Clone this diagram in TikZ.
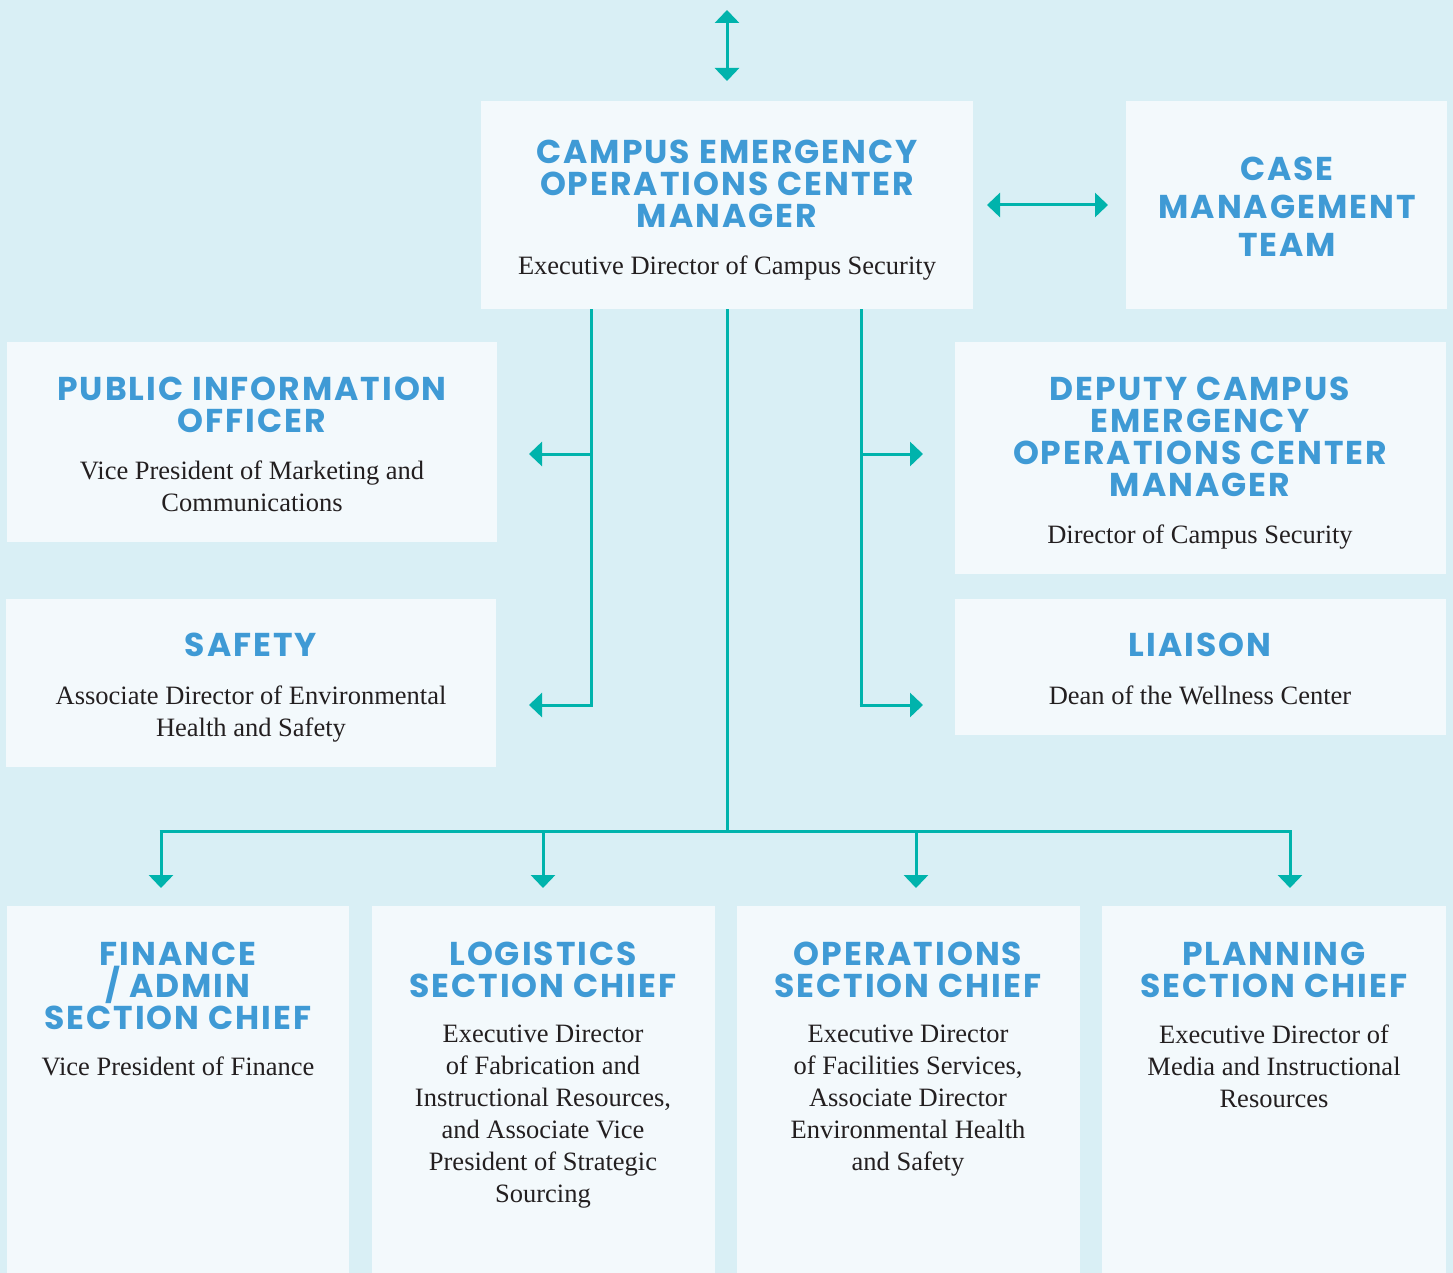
\documentclass[tikz,border=0pt]{standalone}
\usepackage{fontspec}
\setmainfont{Liberation Serif}
\newfontfamily\titlefont[LetterSpace=6]{Poppins}
\usetikzlibrary{arrows.meta}
\definecolor{bgc}{HTML}{D9EFF5}
\definecolor{boxc}{HTML}{F3F9FC}
\definecolor{teal}{HTML}{00B3AC}
\definecolor{ttl}{HTML}{3F9AD5}
\definecolor{txt}{HTML}{231F20}
\tikzset{
  box/.style={draw=none,fill=boxc,anchor=north west,inner sep=0pt,outer sep=0pt},
  ttlnode/.style={anchor=north,inner sep=0pt,align=center,text=ttl,font=\titlefont\bfseries\fontsize{33}{32}\selectfont},
  bodynode/.style={anchor=north,inner sep=0pt,align=center,text=txt,font=\fontsize{26.5}{32}\selectfont},
  conn/.style={draw=teal,line width=3pt,-{Triangle[width=24pt,length=13pt]}},
  line/.style={draw=teal,line width=3pt},
  dconn/.style={draw=teal,line width=3pt,{Triangle[width=24pt,length=13pt]}-{Triangle[width=24pt,length=13pt]}}
}
\begin{document}
\begin{tikzpicture}[x=1pt,y=-1pt]
\useasboundingbox (0,0) rectangle (1453,1273);
\fill[bgc] (0,0) rectangle (1453,1273);
% boxes
\node[box,minimum width=492pt,minimum height=208pt] (ceo) at (481,101) {};
\node[box,minimum width=321pt,minimum height=208pt] (cmt) at (1126,101) {};
\node[box,minimum width=490pt,minimum height=200pt] (pio) at (7,342) {};
\node[box,minimum width=491pt,minimum height=232pt] (dep) at (955,342) {};
\node[box,minimum width=490pt,minimum height=168pt] (saf) at (6,599) {};
\node[box,minimum width=491pt,minimum height=136pt] (lia) at (955,599) {};
\node[box,minimum width=342pt,minimum height=367pt] (fin) at (7,906) {};
\node[box,minimum width=343pt,minimum height=367pt] (log) at (372,906) {};
\node[box,minimum width=343pt,minimum height=367pt] (ops) at (737,906) {};
\node[box,minimum width=344pt,minimum height=367pt] (pla) at (1102,906) {};
% texts
\node[ttlnode] (ceoT) at (727,140) {CAMPUS EMERGENCY\\OPERATIONS CENTER\\MANAGER};
\node[bodynode] (ceoB) at (727,256) {Executive Director of Campus Security};
\node[ttlnode,font=\titlefont\bfseries\fontsize{33}{38}\selectfont] (cmtT) at (1287,157) {CASE\\MANAGEMENT\\TEAM};
\node[ttlnode] (pioT) at (252,377) {PUBLIC INFORMATION\\OFFICER};
\node[bodynode] (pioB) at (252,461) {Vice President of Marketing and\\Communications};
\node[ttlnode] (depT) at (1200,377) {DEPUTY CAMPUS\\EMERGENCY\\OPERATIONS CENTER\\MANAGER};
\node[bodynode] (depB) at (1200,525) {Director of Campus Security};
\node[ttlnode] (safT) at (251,633) {SAFETY};
\node[bodynode] (safB) at (251,686) {Associate Director of Environmental\\Health and Safety};
\node[ttlnode] (liaT) at (1200,633) {LIAISON};
\node[bodynode] (liaB) at (1200,686) {Dean of the Wellness Center};
\node[ttlnode] (finT) at (178,942) {FINANCE\\/ ADMIN\\SECTION CHIEF};
\node[bodynode] (finB) at (178,1057) {Vice President of Finance};
\node[ttlnode] (logT) at (543,942) {LOGISTICS\\SECTION CHIEF};
\node[bodynode] (logB) at (543,1025) {Executive Director\\of Fabrication and\\Instructional Resources,\\and Associate Vice\\President of Strategic\\Sourcing};
\node[ttlnode] (opsT) at (908,942) {OPERATIONS\\SECTION CHIEF};
\node[bodynode] (opsB) at (908,1025) {Executive Director\\of Facilities Services,\\Associate Director\\Environmental Health\\and Safety};
\node[ttlnode] (plaT) at (1274,942) {PLANNING\\SECTION CHIEF};
\node[bodynode] (plaB) at (1274,1025) {Executive Director of\\Media and Instructional\\Resources};
% connector coordinates
\coordinate (topA) at (727,10);
\coordinate (topB) at (727,81);
\coordinate (cL) at (987,205);
\coordinate (cR) at (1108,205);
\coordinate (lTop) at (ceo.south -| 591,0);
\coordinate (lMid) at (591,454);
\coordinate (lBot) at (591,705);
\coordinate (lMidE) at (529,454);
\coordinate (lBotE) at (529,705);
\coordinate (rTop) at (ceo.south -| 861,0);
\coordinate (rMid) at (861,454);
\coordinate (rBot) at (861,705);
\coordinate (rMidE) at (923,454);
\coordinate (rBotE) at (923,705);
\coordinate (cTop) at (ceo.south);
\coordinate (hub) at (727,831);
\coordinate (h1) at (161,831);
\coordinate (h2) at (543,831);
\coordinate (h3) at (916,831);
\coordinate (h4) at (1290,831);
\coordinate (d1) at (161,888);
\coordinate (d2) at (543,888);
\coordinate (d3) at (916,888);
\coordinate (d4) at (1290,888);
% connectors
\draw[dconn] (topA) -- (topB);
\draw[dconn] (cL) -- (cR);
\draw[line] (lTop) -- (lBot);
\draw[conn] (lMid) -- (lMidE);
\draw[conn] ([xshift=1.5pt]lBot) -- (lBotE);
\draw[line] (rTop) -- (rBot);
\draw[conn] (rMid) -- (rMidE);
\draw[conn] ([xshift=-1.5pt]rBot) -- (rBotE);
\draw[line] (cTop) -- (hub);
\draw[line] ([xshift=-1.5pt]h1) -- ([xshift=1.5pt]h4);
\draw[conn] (h1) -- (d1);
\draw[conn] (h2) -- (d2);
\draw[conn] (h3) -- (d3);
\draw[conn] (h4) -- (d4);
\end{tikzpicture}
\end{document}
